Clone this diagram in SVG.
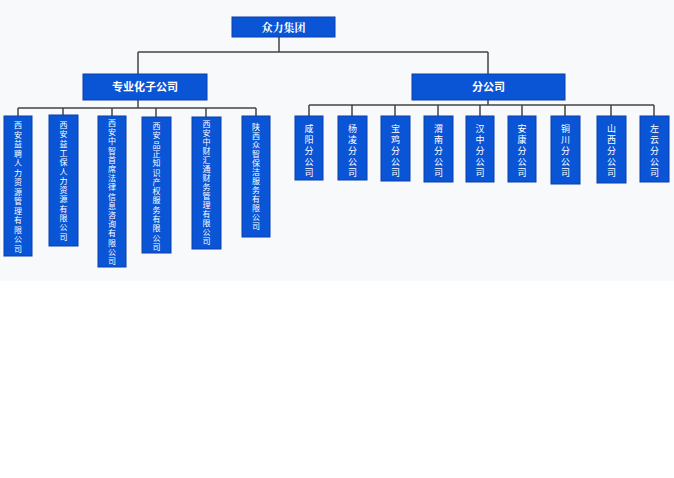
<svg xmlns="http://www.w3.org/2000/svg" width="674" height="478" viewBox="0 0 674 478">
<style>
.b{fill:#0a55d6;stroke:#0a3ea8;stroke-width:1}
.t{fill:#fff;font-family:"Noto Sans CJK SC",sans-serif;font-size:9px;text-anchor:middle}
.s{font-size:8px}
.h{fill:#fff;font-family:"Noto Sans CJK SC",sans-serif;font-size:11px;font-weight:bold;text-anchor:middle}
.l{stroke:#444;stroke-width:1.5;fill:none}
</style>
<rect width="674" height="478" fill="#fff"/>
<rect width="674" height="281" fill="#f7f9fa"/>
<g id="connectors" class="l">
<path d="M279 37V52M138 52H488M138 52V74M488 52V74"/>
<path d="M138 100V108M18 108H256M18 108V116M63 108V115M112 108V116M156 108V117M206 108V117M256 108V116"/>
<path d="M488 100V105M309 105H654M309 105V116M352 105V116M395 105V116M438 105V116M480 105V116M522 105V116M565 105V116M611 105V116M654 105V116"/>
</g>
<g id="root"><rect class="b" x="232" y="17" width="103" height="20"/><text class="h" x="283.5" y="32" font-size="14" font-weight="normal" style="font-family:'Noto Serif CJK SC','Noto Sans CJK SC',serif">众力集团</text></g>
<g id="sub"><rect class="b" x="83" y="74" width="124" height="26"/><text class="h" x="145" y="91">专业化子公司</text></g>
<g id="branch"><rect class="b" x="412" y="74" width="153" height="26"/><text class="h" x="488.5" y="91">分公司</text></g>
<g id="c1"><rect class="b" x="4" y="116" width="28" height="140"/><text class="t s" x="18" y="128"><tspan x="18">西</tspan><tspan x="18" dy="9.5">安</tspan><tspan x="18" dy="9.5">益</tspan><tspan x="18" dy="9.5">聘</tspan><tspan x="18" dy="9.5">人</tspan><tspan x="18" dy="9.5">力</tspan><tspan x="18" dy="9.5">资</tspan><tspan x="18" dy="9.5">源</tspan><tspan x="18" dy="9.5">管</tspan><tspan x="18" dy="9.5">理</tspan><tspan x="18" dy="9.5">有</tspan><tspan x="18" dy="9.5">限</tspan><tspan x="18" dy="9.5">公</tspan><tspan x="18" dy="9.5">司</tspan></text></g>
<g id="c2"><rect class="b" x="49" y="115" width="29" height="131"/><text class="t s" x="63.5" y="128"><tspan x="63.5">西</tspan><tspan x="63.5" dy="9.3">安</tspan><tspan x="63.5" dy="9.3">益</tspan><tspan x="63.5" dy="9.3">工</tspan><tspan x="63.5" dy="9.3">保</tspan><tspan x="63.5" dy="9.3">人</tspan><tspan x="63.5" dy="9.3">力</tspan><tspan x="63.5" dy="9.3">资</tspan><tspan x="63.5" dy="9.3">源</tspan><tspan x="63.5" dy="9.3">有</tspan><tspan x="63.5" dy="9.3">限</tspan><tspan x="63.5" dy="9.3">公</tspan><tspan x="63.5" dy="9.3">司</tspan></text></g>
<g id="c3"><rect class="b" x="98" y="116" width="28" height="151"/><text class="t s" x="112" y="126"><tspan x="112">西</tspan><tspan x="112" dy="9.2">安</tspan><tspan x="112" dy="9.2">中</tspan><tspan x="112" dy="9.2">智</tspan><tspan x="112" dy="9.2">首</tspan><tspan x="112" dy="9.2">席</tspan><tspan x="112" dy="9.2">法</tspan><tspan x="112" dy="9.2">律</tspan><tspan x="112" dy="9.2">信</tspan><tspan x="112" dy="9.2">息</tspan><tspan x="112" dy="9.2">咨</tspan><tspan x="112" dy="9.2">询</tspan><tspan x="112" dy="9.2">有</tspan><tspan x="112" dy="9.2">限</tspan><tspan x="112" dy="9.2">公</tspan><tspan x="112" dy="9.2">司</tspan></text></g>
<g id="c4"><rect class="b" x="142" y="117" width="29" height="136"/><text class="t s" x="156.5" y="129"><tspan x="156.5">西</tspan><tspan x="156.5" dy="9.3">安</tspan><tspan x="156.5" dy="9.3">品</tspan><tspan x="156.5" dy="9.3">正</tspan><tspan x="156.5" dy="9.3">知</tspan><tspan x="156.5" dy="9.3">识</tspan><tspan x="156.5" dy="9.3">产</tspan><tspan x="156.5" dy="9.3">权</tspan><tspan x="156.5" dy="9.3">服</tspan><tspan x="156.5" dy="9.3">务</tspan><tspan x="156.5" dy="9.3">有</tspan><tspan x="156.5" dy="9.3">限</tspan><tspan x="156.5" dy="9.3">公</tspan><tspan x="156.5" dy="9.3">司</tspan></text></g>
<g id="c5"><rect class="b" x="192" y="117" width="29" height="132"/><text class="t s" x="206.5" y="127"><tspan x="206.5">西</tspan><tspan x="206.5" dy="9">安</tspan><tspan x="206.5" dy="9">中</tspan><tspan x="206.5" dy="9">财</tspan><tspan x="206.5" dy="9">汇</tspan><tspan x="206.5" dy="9">通</tspan><tspan x="206.5" dy="9">财</tspan><tspan x="206.5" dy="9">务</tspan><tspan x="206.5" dy="9">管</tspan><tspan x="206.5" dy="9">理</tspan><tspan x="206.5" dy="9">有</tspan><tspan x="206.5" dy="9">限</tspan><tspan x="206.5" dy="9">公</tspan><tspan x="206.5" dy="9">司</tspan></text></g>
<g id="c6"><rect class="b" x="242" y="116" width="28" height="121"/><text class="t s" x="256" y="130"><tspan x="256">陕</tspan><tspan x="256" dy="9">西</tspan><tspan x="256" dy="9">众</tspan><tspan x="256" dy="9">智</tspan><tspan x="256" dy="9">保</tspan><tspan x="256" dy="9">洁</tspan><tspan x="256" dy="9">服</tspan><tspan x="256" dy="9">务</tspan><tspan x="256" dy="9">有</tspan><tspan x="256" dy="9">限</tspan><tspan x="256" dy="9">公</tspan><tspan x="256" dy="9">司</tspan></text></g>
<g id="r1"><rect class="b" x="295" y="116" width="28" height="64"/><text class="t" x="309" y="132"><tspan x="309">咸</tspan><tspan x="309" dy="11">阳</tspan><tspan x="309" dy="11">分</tspan><tspan x="309" dy="11">公</tspan><tspan x="309" dy="11">司</tspan></text></g>
<g id="r2"><rect class="b" x="338" y="116" width="29" height="64"/><text class="t" x="352.5" y="132"><tspan x="352.5">杨</tspan><tspan x="352.5" dy="11">凌</tspan><tspan x="352.5" dy="11">分</tspan><tspan x="352.5" dy="11">公</tspan><tspan x="352.5" dy="11">司</tspan></text></g>
<g id="r3"><rect class="b" x="381" y="116" width="29" height="65"/><text class="t" x="395.5" y="132"><tspan x="395.5">宝</tspan><tspan x="395.5" dy="11">鸡</tspan><tspan x="395.5" dy="11">分</tspan><tspan x="395.5" dy="11">公</tspan><tspan x="395.5" dy="11">司</tspan></text></g>
<g id="r4"><rect class="b" x="424" y="116" width="29" height="66"/><text class="t" x="438.5" y="132"><tspan x="438.5">渭</tspan><tspan x="438.5" dy="11">南</tspan><tspan x="438.5" dy="11">分</tspan><tspan x="438.5" dy="11">公</tspan><tspan x="438.5" dy="11">司</tspan></text></g>
<g id="r5"><rect class="b" x="466" y="116" width="28" height="66"/><text class="t" x="480" y="132"><tspan x="480">汉</tspan><tspan x="480" dy="11">中</tspan><tspan x="480" dy="11">分</tspan><tspan x="480" dy="11">公</tspan><tspan x="480" dy="11">司</tspan></text></g>
<g id="r6"><rect class="b" x="508" y="116" width="28" height="66"/><text class="t" x="522" y="132"><tspan x="522">安</tspan><tspan x="522" dy="11">康</tspan><tspan x="522" dy="11">分</tspan><tspan x="522" dy="11">公</tspan><tspan x="522" dy="11">司</tspan></text></g>
<g id="r7"><rect class="b" x="551" y="116" width="29" height="68"/><text class="t" x="565.5" y="132"><tspan x="565.5">铜</tspan><tspan x="565.5" dy="11">川</tspan><tspan x="565.5" dy="11">分</tspan><tspan x="565.5" dy="11">公</tspan><tspan x="565.5" dy="11">司</tspan></text></g>
<g id="r8"><rect class="b" x="597" y="116" width="29" height="67"/><text class="t" x="611.5" y="132"><tspan x="611.5">山</tspan><tspan x="611.5" dy="11">西</tspan><tspan x="611.5" dy="11">分</tspan><tspan x="611.5" dy="11">公</tspan><tspan x="611.5" dy="11">司</tspan></text></g>
<g id="r9"><rect class="b" x="640" y="116" width="29" height="66"/><text class="t" x="654.5" y="132"><tspan x="654.5">左</tspan><tspan x="654.5" dy="11">云</tspan><tspan x="654.5" dy="11">分</tspan><tspan x="654.5" dy="11">公</tspan><tspan x="654.5" dy="11">司</tspan></text></g>
</svg>
